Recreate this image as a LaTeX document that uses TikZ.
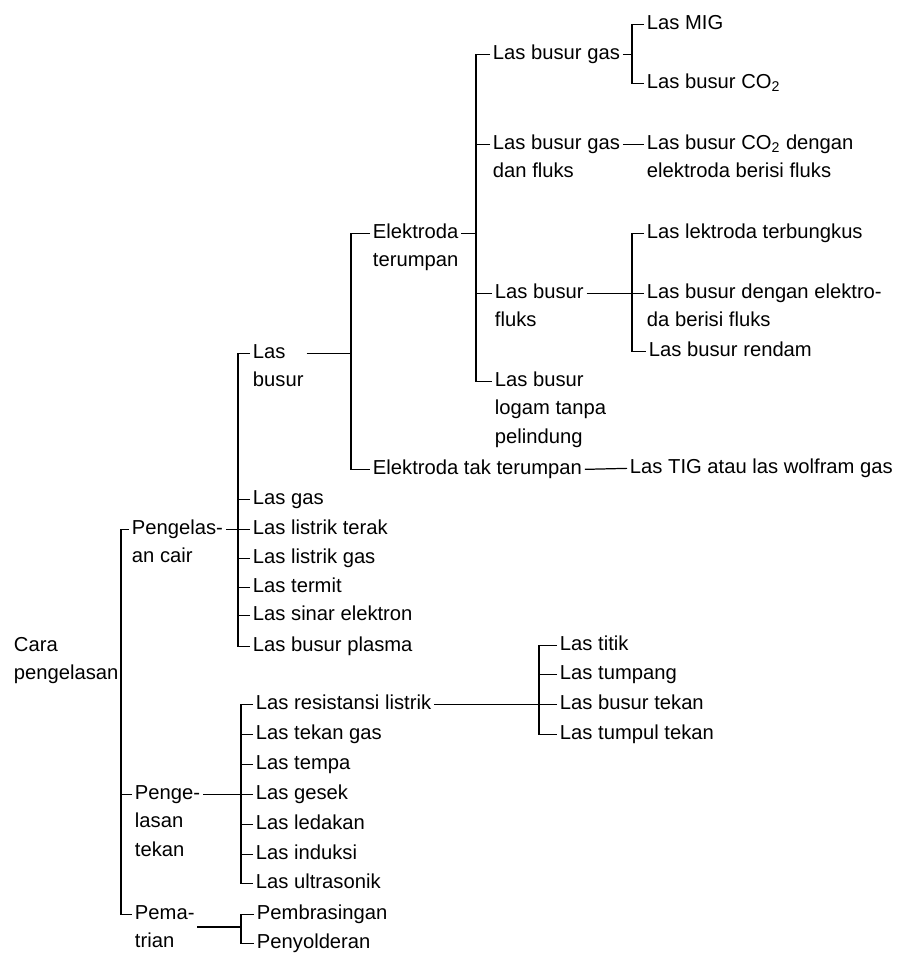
\documentclass[tikz,border=0pt]{standalone}
\usepackage{fontspec}
\setmainfont{Liberation Sans}
\newcommand{\lines}[1]{\begin{tabular}[t]{@{}l@{}}#1\end{tabular}}

\begin{document}
\begin{tikzpicture}[x=0.02cm,y=-0.02cm,
    lbl/.style={anchor=base west,inner xsep=1.5pt,inner ysep=0pt,
      font=\fontsize{11.5}{16.4}\selectfont},
    link/.style={line width=0.7pt}]
    \useasboundingbox (0,0) rectangle (904,954);

    % left part
    \node[lbl] (cara) at (11,651) {\lines{Cara\\pengelasan}};
    \node[lbl] (cair) at (129,534) {\lines{Pengelas-\\an cair}};
    \node[lbl] (tekan) at (132,799) {\lines{Penge-\\lasan\\tekan}};
    \node[lbl] (pema) at (132,919) {\lines{Pema-\\trian}};

    % pengelasan cair
    \node[lbl] (lasbusur) at (250,358) {\lines{Las\\busur}};
    \node[lbl] (lasgas) at (250,504) {Las gas};
    \node[lbl] (terak) at (250,534) {Las listrik terak};
    \node[lbl] (listrikgas) at (250,563) {Las listrik gas};
    \node[lbl] (termit) at (250,592) {Las termit};
    \node[lbl] (sinar) at (250,620) {Las sinar elektron};
    \node[lbl] (plasma) at (250,651) {Las busur plasma};

    \node[lbl] (terumpan) at (370,238) {\lines{Elektroda\\terumpan}};
    \node[lbl] (takterumpan) at (370,474) {Elektroda tak terumpan};
    \node[lbl] (tig) at (627,473) {Las TIG atau las wolfram gas};

    \node[lbl] (busurgas) at (490,59) {Las busur gas};
    \node[lbl] (gasfluks) at (490,149) {\lines{Las busur gas\\dan fluks}};
    \node[lbl] (busurfluks) at (492,298) {\lines{Las busur\\fluks}};
    \node[lbl] (logam) at (492,386) {\lines{Las busur\\logam tanpa\\pelindung}};

    \node[lbl] (mig) at (644,29) {Las MIG};
    \node[lbl] (co2) at (644,88) {Las busur CO\textsubscript{2}};
    \node[lbl] (co2fluks) at (644,149) {\lines{Las busur CO\textsubscript{2} dengan\\elektroda berisi fluks}};
    \node[lbl] (terbungkus) at (644,238) {Las lektroda terbungkus};
    \node[lbl] (elektro) at (644,298) {\lines{Las busur dengan elektro-\\da berisi fluks}};
    \node[lbl] (rendam) at (646,356) {Las busur rendam};

    % pengelasan tekan
    \node[lbl] (resistansi) at (253,709) {Las resistansi listrik};
    \node[lbl] (tekangas) at (253,739) {Las tekan gas};
    \node[lbl] (tempa) at (253,769) {Las tempa};
    \node[lbl] (gesek) at (253,799) {Las gesek};
    \node[lbl] (ledakan) at (253,829) {Las ledakan};
    \node[lbl] (induksi) at (253,859) {Las induksi};
    \node[lbl] (ultrasonik) at (253,888) {Las ultrasonik};

    \node[lbl] (titik) at (557,650) {Las titik};
    \node[lbl] (tumpang) at (557,679) {Las tumpang};
    \node[lbl] (busurtekan) at (557,709) {Las busur tekan};
    \node[lbl] (tumpul) at (557,739) {Las tumpul tekan};

    % pematrian
    \node[lbl] (brasing) at (254,919) {Pembrasingan};
    \node[lbl] (solder) at (254,948) {Penyolderan};

    % brackets
    \coordinate (j1) at (121,675);
    \draw[link] (cara.east |- j1) -- (j1);
    \draw[link] (cair.mid west) -- (cair.mid west -| j1) -- (pema.mid west -| j1) -- (pema.mid west);
    \draw[link] (tekan.mid west) -- (tekan.mid west -| j1);

    \coordinate (j2) at (238,0);
    \draw[link] (cair.mid east) -- (cair.mid east -| j2);
    \draw[link] (lasbusur.mid west) -- (lasbusur.mid west -| j2) -- (plasma.mid west -| j2) -- (plasma.mid west);
    \foreach \n in {lasgas,terak,listrikgas,termit,sinar}
        \draw[link] (\n.mid west) -- (\n.mid west -| j2);

    \coordinate (j3) at (351,0);
    \draw[link] (lasbusur.mid east) -- (lasbusur.mid east -| j3);
    \draw[link] (terumpan.mid west) -- (terumpan.mid west -| j3) -- (takterumpan.mid west -| j3) -- (takterumpan.mid west);
    \draw[link] (takterumpan.mid east) -- (tig.mid west);

    \coordinate (j4) at (476,0);
    \draw[link] (terumpan.mid east) -- (terumpan.mid east -| j4);
    \draw[link] (busurgas.mid west) -- (busurgas.mid west -| j4) -- (logam.mid west -| j4) -- (logam.mid west);
    \foreach \n in {gasfluks,busurfluks}
        \draw[link] (\n.mid west) -- (\n.mid west -| j4);
    \draw[link] (gasfluks.mid east) -- (co2fluks.mid west);

    \coordinate (j5) at (632,0);
    \draw[link] (busurgas.mid east) -- (busurgas.mid east -| j5);
    \draw[link] (mig.mid west) -- (mig.mid west -| j5) -- (co2.mid west -| j5) -- (co2.mid west);
    \draw[link] (busurfluks.mid east) -- (elektro.mid west);
    \draw[link] (terbungkus.mid west) -- (terbungkus.mid west -| j5) -- (rendam.mid west -| j5) -- (rendam.mid west);

    \coordinate (j7) at (241,0);
    \draw[link] (tekan.mid east) -- (tekan.mid east -| j7);
    \draw[link] (resistansi.mid west) -- (resistansi.mid west -| j7) -- (ultrasonik.mid west -| j7) -- (ultrasonik.mid west);
    \foreach \n in {tekangas,tempa,gesek,ledakan,induksi}
        \draw[link] (\n.mid west) -- (\n.mid west -| j7);

    \coordinate (j8) at (539,0);
    \draw[link] (resistansi.mid east) -- (resistansi.mid east -| j8);
    \draw[link] (titik.mid west) -- (titik.mid west -| j8) -- (tumpul.mid west -| j8) -- (tumpul.mid west);
    \foreach \n in {tumpang,busurtekan}
        \draw[link] (\n.mid west) -- (\n.mid west -| j8);

    \coordinate (j9) at (241,927);
    \draw[link] (pema.east |- j9) -- (j9);
    \draw[link] (brasing.mid west) -- (brasing.mid west -| j9) -- (solder.mid west -| j9) -- (solder.mid west);
\end{tikzpicture}
\end{document}
